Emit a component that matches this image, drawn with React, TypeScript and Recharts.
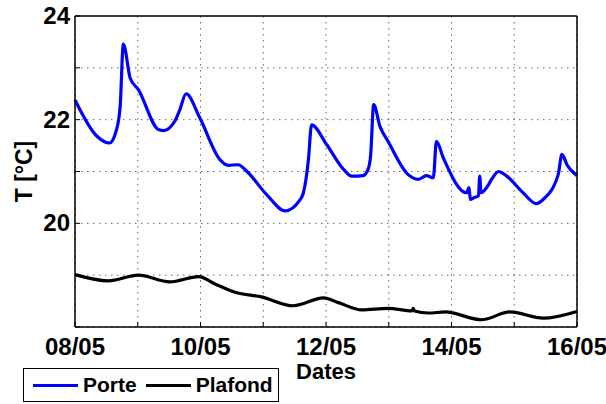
import { LineChart, Line, XAxis, YAxis, CartesianGrid } from 'recharts'

// days since 08/05 00:00
const porteDays = [0, 0.35, 0.55, 0.66, 0.72, 0.77, 0.88, 1.01, 1.33, 1.41, 1.59, 1.67, 1.77, 1.99, 2.31, 2.44, 2.6, 2.74, 3.05, 3.35, 3.59, 3.64, 3.72, 3.77, 4.01, 4.28, 4.41, 4.59, 4.67, 4.71, 4.76, 4.86, 4.99, 5.31, 5.47, 5.6, 5.71, 5.76, 5.87, 6.24, 6.28, 6.3, 6.35, 6.43, 6.45, 6.47, 6.56, 6.64, 6.75, 6.88, 7.14, 7.35, 7.46, 7.7, 7.76, 7.84, 8.0]
const porteTemp = [22.38, 21.68, 21.55, 21.8, 22.26, 23.46, 22.8, 22.58, 21.81, 21.79, 21.97, 22.19, 22.5, 22.03, 21.23, 21.12, 21.13, 21.0, 20.56, 20.24, 20.46, 20.59, 21.23, 21.9, 21.52, 21.04, 20.91, 20.92, 21.04, 21.29, 22.29, 21.87, 21.58, 20.94, 20.85, 20.92, 20.88, 21.58, 21.26, 20.59, 20.69, 20.46, 20.49, 20.53, 20.91, 20.59, 20.69, 20.85, 21.0, 20.91, 20.59, 20.38, 20.46, 20.94, 21.33, 21.13, 20.92]

const plafondDays = [0, 0.53, 1.01, 1.51, 1.97, 2.23, 2.55, 2.97, 3.48, 3.96, 4.2, 4.57, 4.99, 5.37, 5.39, 5.41, 5.63, 5.9, 6.48, 6.93, 7.46, 8.0]
const plafondTemp = [19.01, 18.89, 19.0, 18.87, 18.97, 18.83, 18.67, 18.58, 18.41, 18.56, 18.47, 18.33, 18.36, 18.31, 18.36, 18.31, 18.27, 18.29, 18.14, 18.29, 18.17, 18.3]

const dayTicks = [0, 1, 2, 3, 4, 5, 6, 7, 8]
const dayLabels = ['08/05', '', '10/05', '', '12/05', '', '14/05', '', '16/05']
const tempTicks = [18, 19, 20, 21, 22, 23, 24]
const tempLabels = ['', '', '20', '', '22', '', '24']

const porteData = porteDays.map((d, i) => ({ d, t: porteTemp[i] }))
const plafondData = plafondDays.map((d, i) => ({ d, t: plafondTemp[i] }))

const FONT = '"Liberation Sans", Arial, sans-serif'

function BottomTick({ x, y, index }: any) {
  return (
    <g>
      <line x1={x} y1={y} x2={x} y2={y - 5} stroke='#000' strokeWidth={1} />
      <text x={x} y={y + 28} textAnchor='middle' fontFamily={FONT} fontWeight='bold' fontSize={24} fill='#000'>
        {dayLabels[index]}
      </text>
    </g>
  )
}

function TopTick({ x, y }: any) {
  return <line x1={x} y1={y} x2={x} y2={y + 5} stroke='#000' strokeWidth={1} />
}

function LeftTick({ x, y, index }: any) {
  return (
    <g>
      <line x1={x} y1={y} x2={x + 5} y2={y} stroke='#000' strokeWidth={1} />
      <text x={x - 5} y={y + 8} textAnchor='end' fontFamily={FONT} fontWeight='bold' fontSize={24} fill='#000'>
        {tempLabels[index]}
      </text>
    </g>
  )
}

function RightTick({ x, y }: any) {
  return <line x1={x} y1={y} x2={x - 5} y2={y} stroke='#000' strokeWidth={1} />
}

export default function App() {
  return (
    <div style={{ position: 'fixed', left: 0, top: 0, width: 606, height: 404, background: '#fff', fontFamily: FONT }}>
      <LineChart width={606} height={404} margin={{ top: 15, right: 28, bottom: 27, left: 15 }}>
        <CartesianGrid xAxisId='bottom' yAxisId='left' stroke='#666' strokeDasharray='1.5 4.5' />
        <XAxis
          xAxisId='bottom'
          type='number'
          dataKey='d'
          domain={[0, 8]}
          ticks={dayTicks}
          interval={0}
          height={50}
          tickSize={0}
          tickMargin={0}
          tickLine={false}
          tick={<BottomTick />}
          axisLine={{ stroke: '#000', strokeWidth: 1.5 }}
          label={{ value: 'Dates', position: 'insideBottom', offset: -2, fontFamily: FONT, fontWeight: 'bold', fontSize: 22, fill: '#000' }}
        />
        <XAxis
          xAxisId='top'
          orientation='top'
          type='number'
          dataKey='d'
          domain={[0, 8]}
          ticks={dayTicks}
          interval={0}
          height={1}
          tickSize={0}
          tickMargin={0}
          tickLine={false}
          tick={<TopTick />}
          axisLine={{ stroke: '#000', strokeWidth: 1.5 }}
        />
        <YAxis
          yAxisId='left'
          type='number'
          domain={[18, 24]}
          ticks={tempTicks}
          interval={0}
          width={60}
          tickSize={0}
          tickMargin={0}
          tickLine={false}
          tick={<LeftTick />}
          axisLine={{ stroke: '#000', strokeWidth: 1.5 }}
          label={{ value: 'T [°C]', angle: -90, position: 'insideLeft', offset: 9, textAnchor: 'middle', fontFamily: FONT, fontWeight: 'bold', fontSize: 23, fill: '#000' }}
        />
        <YAxis
          yAxisId='right'
          orientation='right'
          type='number'
          domain={[18, 24]}
          ticks={tempTicks}
          interval={0}
          width={1}
          tickSize={0}
          tickMargin={0}
          tickLine={false}
          tick={<RightTick />}
          axisLine={{ stroke: '#000', strokeWidth: 1.5 }}
        />
        <Line
          xAxisId='bottom'
          yAxisId='left'
          data={porteData}
          dataKey='t'
          type='monotone'
          stroke='#0000ff'
          strokeWidth={3.2}
          dot={false}
          isAnimationActive={false}
        />
        <Line
          xAxisId='bottom'
          yAxisId='left'
          data={plafondData}
          dataKey='t'
          type='monotone'
          stroke='#000'
          strokeWidth={3.2}
          dot={false}
          isAnimationActive={false}
        />
      </LineChart>

      <div
        style={{
          position: 'absolute', left: 23, top: 368, width: 256, height: 34, boxSizing: 'border-box',
          border: '1.5px solid #000', background: '#fff', display: 'flex', alignItems: 'center',
          fontWeight: 'bold', fontSize: 21, color: '#000',
        }}
      >
        <span style={{ display: 'inline-block', width: 45, height: 3, background: '#0000ff', marginLeft: 9, marginRight: 5 }} />
        <span>Porte</span>
        <span style={{ display: 'inline-block', width: 45, height: 3, background: '#000', marginLeft: 9, marginRight: 5 }} />
        <span>Plafond</span>
      </div>
    </div>
  )
}
